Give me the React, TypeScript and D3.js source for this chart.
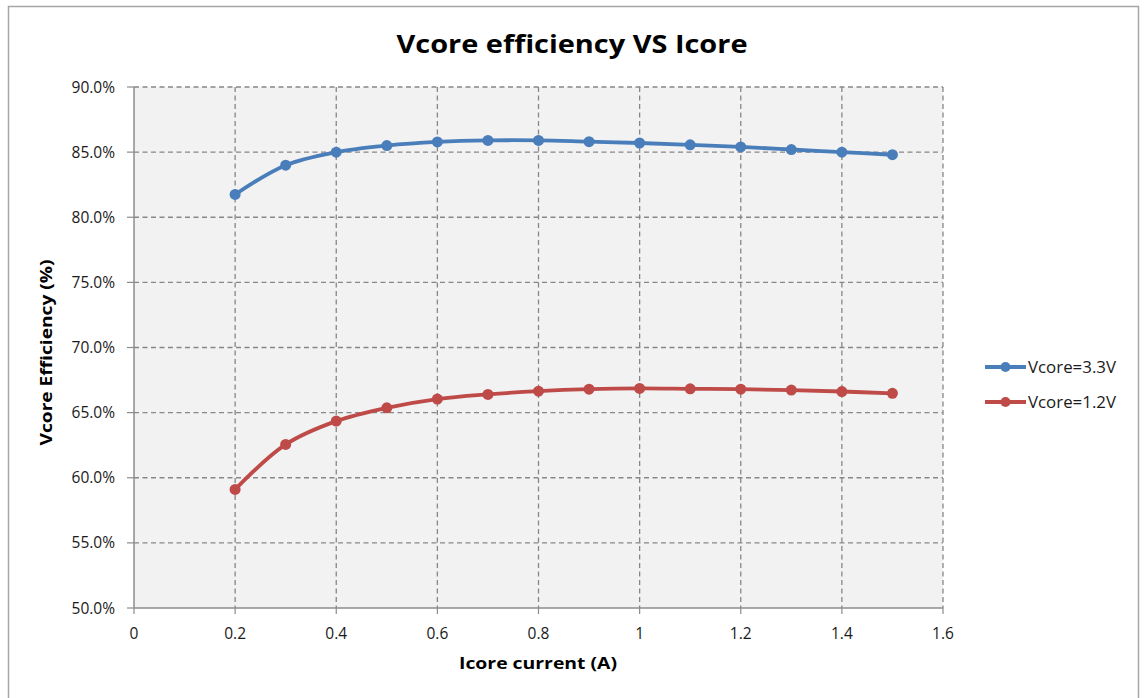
import React from "react";
import * as d3 from "d3";

const currents = [0.2, 0.3, 0.4, 0.5, 0.6, 0.7, 0.8, 0.9, 1.0, 1.1, 1.2, 1.3, 1.4, 1.5];
const eff33 = [81.75, 84.0, 85.0, 85.5, 85.78, 85.9, 85.9, 85.8, 85.7, 85.56, 85.4, 85.2, 85.0, 84.8];
const eff12 = [59.1, 62.56, 64.35, 65.37, 66.04, 66.4, 66.65, 66.8, 66.86, 66.83, 66.8, 66.73, 66.62, 66.48];
const xTicks = [0, 0.2, 0.4, 0.6, 0.8, 1.0, 1.2, 1.4, 1.6];
const yTicks = [50, 55, 60, 65, 70, 75, 80, 85, 90];
const seriesNames = ["Vcore=3.3V", "Vcore=1.2V"];
const seriesColors = ["#4a7ebb", "#be4b48"];

export default function App() {
  const x = d3.scaleLinear().domain([0, 1.6]).range([134, 943]);
  const y = d3.scaleLinear().domain([50, 90]).range([608, 87]);
  const line = d3
    .line<[number, number]>()
    .x((d) => x(d[0]))
    .y((d) => y(d[1]))
    .curve(d3.curveCatmullRom.alpha(0.5));
  const series = [eff33, eff12].map((vals) => currents.map((c, i) => [c, vals[i]] as [number, number]));
  const font = "'Open Sans', 'Noto Sans', sans-serif";
  const [x0, x1] = x.range();
  const [y0, y1] = y.range();

  return (
    <svg
      width={1144}
      height={698}
      style={{ position: "absolute", left: 0, top: 0, background: "#fff" }}
      fontFamily={font}
    >
      <rect x={8.5} y={6.5} width={1130} height={700} fill="#fff" stroke="#a6a6a6" strokeWidth={1.5} />
      <text
        x={572}
        y={53}
        textAnchor="middle"
        fontSize={25}
        fontWeight="bold"
        fill="#000"
        textLength={351}
        lengthAdjust="spacingAndGlyphs"
      >
        Vcore efficiency VS Icore
      </text>
      <rect x={x0} y={y1} width={x1 - x0} height={y0 - y1} fill="#f2f2f2" />
      {yTicks.slice(1).map((t) => (
        <line key={"gy" + t} x1={x0} x2={x1} y1={y(t)} y2={y(t)} stroke="#878787" strokeWidth={1.3} strokeDasharray="5,3.5" />
      ))}
      {xTicks.slice(1).map((t) => (
        <line key={"gx" + t} x1={x(t)} x2={x(t)} y1={y1} y2={y0} stroke="#878787" strokeWidth={1.3} strokeDasharray="5,3.5" />
      ))}
      <line x1={x0} x2={x0} y1={y1} y2={y0} stroke="#8c8c8c" strokeWidth={1.5} />
      <line x1={x0} x2={x1} y1={y0} y2={y0} stroke="#8c8c8c" strokeWidth={1.5} />
      {yTicks.map((t) => (
        <g key={"ty" + t}>
          <line x1={x0 - 7} x2={x0} y1={y(t)} y2={y(t)} stroke="#8c8c8c" strokeWidth={1.2} />
          <text x={115} y={y(t)} dy="0.36em" textAnchor="end" fontSize={15.5} fill="#1a1a1a">
            {t.toFixed(1) + "%"}
          </text>
        </g>
      ))}
      {xTicks.map((t) => (
        <g key={"tx" + t}>
          <line x1={x(t)} x2={x(t)} y1={y0} y2={y0 + 6} stroke="#8c8c8c" strokeWidth={1.2} />
          <text x={x(t)} y={639} textAnchor="middle" fontSize={15.5} fill="#1a1a1a">
            {d3.format("~g")(t)}
          </text>
        </g>
      ))}
      <text
        x={538}
        y={669}
        textAnchor="middle"
        fontSize={16.5}
        fontWeight="bold"
        fill="#000"
        textLength={158}
        lengthAdjust="spacingAndGlyphs"
      >
        Icore current (A)
      </text>
      <text
        transform={`translate(52,${(y0 + y1) / 2 + 5}) rotate(-90)`}
        textAnchor="middle"
        fontSize={16.5}
        fontWeight="bold"
        fill="#000"
        textLength={186}
        lengthAdjust="spacingAndGlyphs"
      >
        Vcore Efficiency (%)
      </text>
      {series.map((pts, si) => (
        <g key={"s" + si}>
          <path d={line(pts) || ""} fill="none" stroke={seriesColors[si]} strokeWidth={3.8} strokeLinejoin="round" />
          {pts.map((p, i) => (
            <circle key={i} cx={x(p[0])} cy={y(p[1])} r={5.5} fill={seriesColors[si]} />
          ))}
        </g>
      ))}
      {seriesNames.map((name, i) => {
        const ly = 367 + i * 35;
        return (
          <g key={"lg" + i}>
            <line x1={985} x2={1026} y1={ly} y2={ly} stroke={seriesColors[i]} strokeWidth={3.8} />
            <circle cx={1005.5} cy={ly} r={5} fill={seriesColors[i]} />
            <text
              x={1028}
              y={ly}
              dy="0.36em"
              fontSize={15.5}
              fill="#1a1a1a"
              textLength={88}
              lengthAdjust="spacingAndGlyphs"
            >
              {name}
            </text>
          </g>
        );
      })}
    </svg>
  );
}
